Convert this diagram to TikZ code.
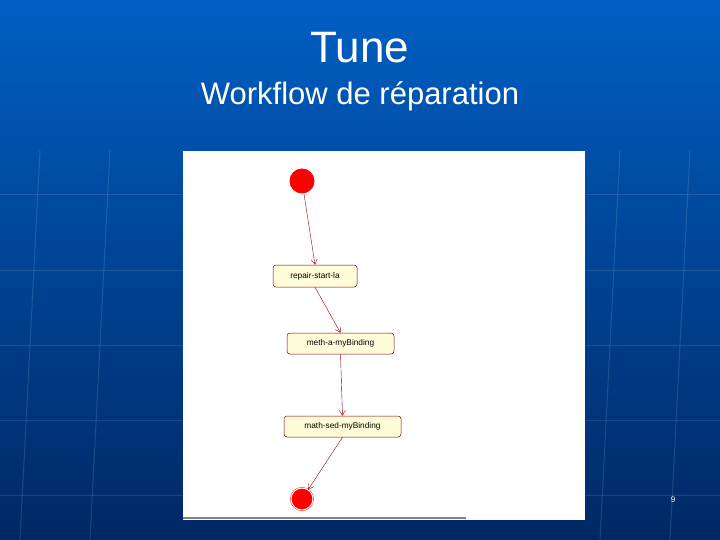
\documentclass[tikz,border=0pt]{standalone}
\usepackage{fontspec}
\setmainfont{Liberation Sans}
\usetikzlibrary{arrows.meta}
\begin{document}
\begin{tikzpicture}[x=1pt,y=-1pt,
  act/.style={draw=red!50!black, fill=yellow!15, rounded corners=3pt, font=\fontsize{8.3}{9}\selectfont, inner sep=0pt, line width=0.5pt},
  flow/.style={draw=red!60!black, line width=0.4pt, -{Straight Barb[length=5pt,width=6pt]}},
  grid/.style={draw=white, opacity=0.12, line width=1pt}]
\useasboundingbox (0,0) rectangle (720,540);
\shade[top color={rgb,255:red,0;green,95;blue,195}, bottom color={rgb,255:red,0;green,40;blue,100}] (0,0) rectangle (720,540);
\foreach \yy in {195,270,345,420,495} \draw[grid] (0,\yy) -- (720,\yy);
\foreach \xx in {40,110,620,690} \draw[grid] (\xx,150) -- (\xx-20,540);
\node (title) at (360,48) {\fontsize{44}{48}\selectfont\color{white}Tune};
\node (sub) at (360,96) {\fontsize{31}{34}\selectfont\color{white}Workflow de réparation};
\fill[white] (183,151) rectangle (585,520);
\draw[gray, line width=1.2pt] (183,518) -- (466,518);
\node[circle, fill=red, minimum size=25pt, inner sep=0pt] (s) at (302,181) {};
\node[act, minimum width=84pt, minimum height=22pt] (a) at (315,276) {repair-start-la};
\node[act, minimum width=107pt, minimum height=21pt] (b) at (340.5,343.5) {meth-a-myBinding};
\node[act, minimum width=117pt, minimum height=21pt] (c) at (342.5,426.5) {math-sed-myBinding};
\node[circle, draw=red, fill=red, double=white, double distance=1pt, minimum size=22pt, inner sep=0pt] (e) at (302,499) {};
\draw[flow] (s) -- (a.north);
\draw[flow] (a.south) -- (b.north);
\draw[flow] (b.south) -- (c.north);
\draw[flow] (c.south) -- (e);
\node (pg) at (673,500) {\fontsize{8}{9}\selectfont\color{white}9};
\end{tikzpicture}
\end{document}
